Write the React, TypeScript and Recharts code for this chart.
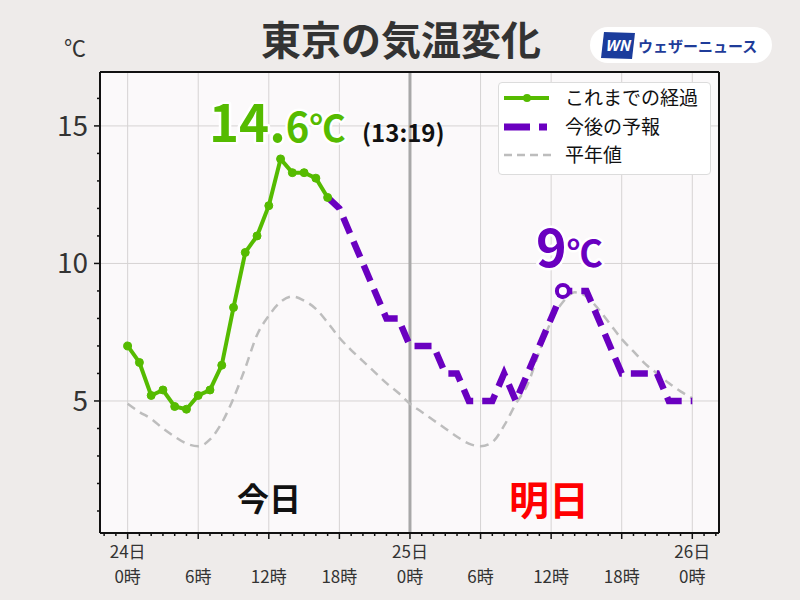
import React from 'react';
import { LineChart, Line, XAxis, YAxis, CartesianGrid, ReferenceLine, Legend } from 'recharts';

const FONT = '"Noto Sans CJK JP", "Noto Sans", sans-serif';
const GREEN = '#55bb00';
const PURPLE = '#6a00c0';
const GRAY = '#bdbdbd';

// Observed temperatures, hourly from 24日 0時
const OBS_START = 0;
const observed = [7.0, 6.4, 5.2, 5.4, 4.8, 4.7, 5.2, 5.4, 6.3, 8.4, 10.4, 11.0, 12.1, 13.8, 13.3, 13.3, 13.1, 12.4];

// Forecast temperatures, hourly from 24日 17時
const FC_START = 17;
const forecast = [12.4, 12, 11, 10, 9, 8, 8, 7, 7, 7, 6, 6, 5, 5, 5, 6, 5, 6, 7, 8, 9, 9, 9, 8, 7, 6, 6, 6, 6, 5, 5, 5];

// Normal (平年値), hourly from 24日 0時 to 26日 0時
const normal = [
  4.9, 4.6, 4.35, 4.0, 3.7, 3.45, 3.35, 3.6, 4.2, 5.1, 6.2, 7.4, 8.1, 8.6, 8.8, 8.65, 8.35, 7.85, 7.3, 6.85, 6.45, 6.05, 5.65, 5.3,
  4.9, 4.6, 4.3, 4.0, 3.7, 3.45, 3.35, 3.5, 4.1, 4.9, 5.6, 6.8, 7.9, 8.6, 8.95, 8.8, 8.35, 7.8, 7.25, 6.8, 6.35, 6.0, 5.65, 5.35, 5.1,
];

const FC_PEAK_HOUR = 37;

const hourTicks = [-2, -1, 0, 1, 2, 3, 4, 5, 6, 7, 8, 9, 10, 11, 12, 13, 14, 15, 16, 17, 18, 19, 20, 21, 22, 23, 24, 25, 26, 27, 28, 29, 30, 31, 32, 33, 34, 35, 36, 37, 38, 39, 40, 41, 42, 43, 44, 45, 46, 47, 48, 49, 50];
const majorHours = [0, 6, 12, 18, 24, 30, 36, 42, 48];
const dayLabels: Record<number, string> = { 0: '24日', 24: '25日', 48: '26日' };
const hourLabels: Record<number, string> = { 0: '0時', 6: '6時', 12: '12時', 18: '18時', 24: '0時', 30: '6時', 36: '12時', 42: '18時', 48: '0時' };
const tempTicks = [1, 2, 3, 4, 5, 6, 7, 8, 9, 10, 11, 12, 13, 14, 15, 16];
const tempLabels = [5, 10, 15];

const X_DOMAIN: [number, number] = [-2.35, 50.27];
const Y_DOMAIN: [number, number] = [0.2, 16.96];

const data = normal.map((n, h) => {
  const oi = h - OBS_START;
  const fi = h - FC_START;
  return {
    h,
    normal: n,
    obs: oi >= 0 && oi < observed.length ? observed[oi] : null,
    fc: fi >= 0 && fi < forecast.length ? forecast[fi] : null,
  };
});

const XTick = (props: any) => {
  const { x, y, payload } = props;
  const v = payload.value;
  const major = majorHours.includes(v);
  const day = dayLabels[v];
  const hr = hourLabels[v];
  return (
    <g>
      <line x1={x} x2={x} y1={y} y2={y + (major ? 6 : 3)} stroke="#111" strokeWidth={1.5} />
      {day && (
        <text x={x} y={y + 25} textAnchor="middle" fontSize={17} fill="#333" fontFamily={FONT}>
          {day}
        </text>
      )}
      {hr && (
        <text x={x} y={y + 50} textAnchor="middle" fontSize={17} fill="#333" fontFamily={FONT}>
          {hr}
        </text>
      )}
    </g>
  );
};

const YTick = (props: any) => {
  const { x, y, payload } = props;
  const v = payload.value;
  const major = tempLabels.includes(v);
  return (
    <g>
      <line x1={x} x2={x - (major ? 6 : 3)} y1={y} y2={y} stroke="#111" strokeWidth={1.5} />
      {major && (
        <text x={x - 12} y={y + 10} textAnchor="end" fontSize={28} fill="#333" fontFamily={FONT}>
          {v}
        </text>
      )}
    </g>
  );
};

const renderLegend = () => (
  <div
    style={{
      width: 213,
      height: 93,
      boxSizing: 'border-box',
      background: '#ffffff',
      border: '1px solid #dcdcdc',
      borderRadius: 4,
    }}
  >
    <svg width={211} height={91} style={{ display: 'block' }}>
      <line x1={5} x2={50} y1={15} y2={15} stroke={GREEN} strokeWidth={4} />
      <circle cx={28} cy={15} r={4} fill={GREEN} />
      <text x={66} y={22} fontSize={19} fill="#111" fontFamily={FONT}>これまでの経過</text>
      <line x1={5} x2={48} y1={44} y2={44} stroke={PURPLE} strokeWidth={7} strokeDasharray="26 9" />
      <text x={66} y={51} fontSize={19} fill="#111" fontFamily={FONT}>今後の予報</text>
      <line x1={5} x2={52} y1={72} y2={72} stroke={GRAY} strokeWidth={2.5} strokeDasharray="8 5" />
      <text x={66} y={79} fontSize={19} fill="#111" fontFamily={FONT}>平年値</text>
    </svg>
  </div>
);

const fcDot = (p: any) => {
  if (p.payload && p.payload.h === FC_PEAK_HOUR) {
    return <circle key={`d${p.index}`} cx={p.cx} cy={p.cy} r={6} fill="#ffffff" stroke={PURPLE} strokeWidth={4} />;
  }
  return <g key={`d${p.index}`} />;
};

export default function App() {
  return (
    <div style={{ position: 'fixed', left: 0, top: 0, width: 800, height: 600, background: '#eeebea', overflow: 'hidden' }}>
      <LineChart width={800} height={600} data={data} margin={{ top: 72, right: 81, bottom: 0, left: 0 }}>
        <CartesianGrid
          fill="#fbf9fa"
          stroke="#d6d3d3"
          strokeWidth={1}
          verticalValues={majorHours}
          horizontalValues={tempLabels}
        />
        <XAxis
          dataKey="h"
          type="number"
          domain={X_DOMAIN}
          allowDataOverflow
          ticks={hourTicks}
          interval={0}
          tick={<XTick />}
          tickLine={false}
          tickSize={0}
          tickMargin={0}
          height={67}
          axisLine={{ stroke: '#111', strokeWidth: 2 }}
        />
        <YAxis
          type="number"
          domain={Y_DOMAIN}
          allowDataOverflow
          ticks={tempTicks}
          interval={0}
          tick={<YTick />}
          tickLine={false}
          tickSize={0}
          tickMargin={0}
          width={100}
          axisLine={{ stroke: '#111', strokeWidth: 2 }}
        />
        <ReferenceLine x={24} stroke="#a8a8a8" strokeWidth={3} />
        <ReferenceLine y={Y_DOMAIN[1]} stroke="#111" strokeWidth={2} />
        <ReferenceLine x={X_DOMAIN[1]} stroke="#111" strokeWidth={2} />
        <Legend
          content={renderLegend}
          layout="vertical"
          align="center"
          verticalAlign="middle"
          wrapperStyle={{ left: 498, top: 82, width: 213, height: 93 }}
        />
        <Line
          dataKey="normal"
          type="monotone"
          stroke={GRAY}
          strokeWidth={2.5}
          strokeDasharray="9 6"
          dot={false}
          activeDot={false}
          isAnimationActive={false}
        />
        <Line
          dataKey="fc"
          type="linear"
          stroke={PURPLE}
          strokeWidth={6.5}
          strokeDasharray="17 9"
          dot={fcDot}
          activeDot={false}
          connectNulls={false}
          isAnimationActive={false}
        />
        <Line
          dataKey="obs"
          type="linear"
          stroke={GREEN}
          strokeWidth={4}
          dot={{ r: 4, fill: GREEN, stroke: GREEN, strokeWidth: 1 }}
          activeDot={false}
          connectNulls={false}
          isAnimationActive={false}
        />
      </LineChart>
      <svg
        width={800}
        height={600}
        style={{ position: 'absolute', left: 0, top: 0, pointerEvents: 'none' }}
        fontFamily={FONT}
      >
        <text x={401} y={55} textAnchor="middle" fontSize={40} fontWeight="bold" fill="#333">
          東京の気温変化
        </text>
        <text x={64} y={56} fontSize={22} fill="#333">℃</text>
        <rect x={590} y={27} width={182} height={36} rx={18} fill="#ffffff" />
        <polygon points="604,32 635,33 632,59 601,58" fill="#1b3c9c" />
        <text x={617.5} y={51} textAnchor="middle" fontSize={15} fontWeight="bold" fontStyle="italic" fill="#ffffff">WN</text>
        <text x={638} y={52} fontSize={15} fontWeight="bold" fill="#1f3c99">ウェザーニュース</text>
        <text
          x={209}
          y={142}
          fontWeight="bold"
          fill={GREEN}
          stroke="#ffffff"
          strokeWidth={5}
          strokeLinejoin="round"
          paintOrder="stroke"
        >
          <tspan fontSize={51}>14.</tspan>
          <tspan fontSize={40}>6</tspan>
          <tspan fontSize={36}>℃</tspan>
        </text>
        <text x={362} y={142} fontSize={24} fontWeight="bold" fill="#111">(13:19)</text>
        <text
          x={536}
          y={267}
          fontWeight="bold"
          fill={PURPLE}
          stroke="#ffffff"
          strokeWidth={5}
          strokeLinejoin="round"
          paintOrder="stroke"
        >
          <tspan fontSize={52}>9</tspan>
          <tspan fontSize={36}>℃</tspan>
        </text>
        <text x={237} y={511} fontSize={32} fontWeight="bold" fill="#111">今日</text>
        <text x={509} y={515} fontSize={40} fontWeight="bold" fill="#ff0000">明日</text>
      </svg>
    </div>
  );
}
